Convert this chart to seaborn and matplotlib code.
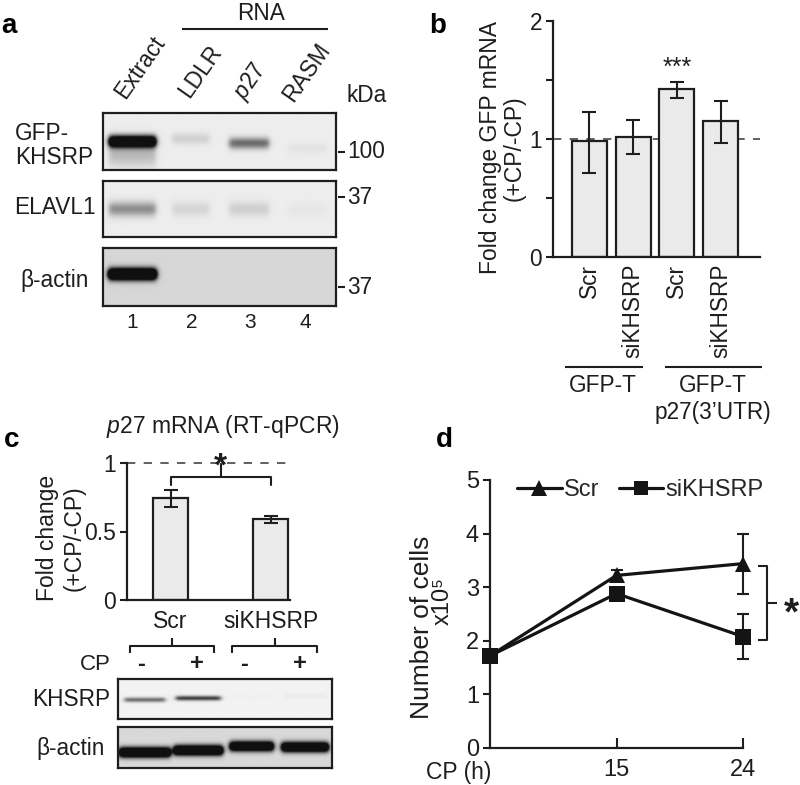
import numpy as np
import pandas as pd
import matplotlib
matplotlib.use("Agg")
import matplotlib.pyplot as plt
from matplotlib.lines import Line2D
import seaborn as sns

# ---------------- data ----------------
# panel a: RNA pull-down western blots
a_lanes = ["Extract", "LDLR", "$\\mathit{p27}$", "RASM"]
a_lane_numbers = ["1", "2", "3", "4"]
a_blot_names = ["GFP-\nKHSRP", "ELAVL1", "β-actin"]
a_markers = ["100", "37", "37"]
a_gfp_khsrp = [1.8, 0.12, 0.55, 0.04]
a_elavl1 = [0.40, 0.10, 0.13, 0.03]
a_actin = [2.2, 0.0, 0.0, 0.0]

# panel b: GFP reporter mRNA fold change
b_groups = ["Scr", "siKHSRP", "Scr", "siKHSRP"]
b_values = [0.98, 1.02, 1.42, 1.15]
b_err_low = [0.71, 0.87, 1.35, 0.97]
b_err_high = [1.23, 1.16, 1.48, 1.32]
b_constructs = ["GFP-T", "GFP-T\np27(3’UTR)"]

# panel c: p27 mRNA (RT-qPCR) + blots
c_groups = ["Scr", "siKHSRP"]
c_values = [0.745, 0.59]
c_err_low = [0.68, 0.56]
c_err_high = [0.80, 0.61]
c_cp = ["-", "+", "-", "+"]
c_khsrp = [0.55, 0.75, 0.01, 0.03]
c_actin = [2.0, 2.0, 1.8, 1.9]

# panel d: cell numbers
d_times = ["0", "15", "24"]
d_scr = [1.72, 3.22, 3.44]
d_scr_err = [0.0, 0.10, 0.56]
d_si = [1.72, 2.88, 2.08]
d_si_err = [0.0, 0.08, 0.42]

# ---------------- style ----------------
sns.set_theme(style="ticks")
plt.rcParams["font.family"] = ["Liberation Sans", "DejaVu Sans"]
plt.rcParams["mathtext.fontset"] = "custom"
plt.rcParams["mathtext.rm"] = "Liberation Sans"
plt.rcParams["mathtext.it"] = "Liberation Sans:italic"
INK = "#1e1e1e"
BAR = "#e9eae9"
FS = 16.3

W, H = 800, 785
fig = plt.figure(figsize=(8, 7.85), dpi=100)
fig.patch.set_facecolor("white")


def px_box(l, t, r, b):
    return [l / W, 1 - b / H, (r - l) / W, (b - t) / H]


ov = fig.add_axes([0, 0, 1, 1])
ov.set_xlim(0, W)
ov.set_ylim(H, 0)
ov.axis("off")


def T(x, y, s, **kw):
    kw.setdefault("ha", "center")
    kw.setdefault("va", "center")
    kw.setdefault("fontsize", FS)
    kw.setdefault("color", INK)
    ov.text(x, y, s, **kw)


def L(xs, ys, lw=1.5):
    ov.plot(xs, ys, color=INK, lw=lw, solid_capstyle="butt")


def style_axes(ax):
    for s in ["top", "right"]:
        ax.spines[s].set_visible(False)
    for s in ["left", "bottom"]:
        ax.spines[s].set_linewidth(1.6)
        ax.spines[s].set_color(INK)
    ax.set_facecolor("none")


def blot(box, intens, ycen, sy, hw, bg, smear=None, nlanes=4):
    ax = fig.add_axes(px_box(*box))
    nx, ny = 420, 140
    xs = np.linspace(0.5, nlanes + 0.5, nx)
    ys = np.linspace(0, 1, ny)
    X, Y = np.meshgrid(xs, ys)
    dens = np.zeros_like(X)
    for i in range(nlanes):
        c = i + 1
        px = 0.5 * (np.tanh((X - (c - hw[i])) / 0.05) - np.tanh((X - (c + hw[i])) / 0.05))
        py = np.exp(-((Y - ycen[i]) / sy) ** 2)
        dens += intens[i] * px * py
        if smear is not None and smear[i] > 0:
            ps = np.exp(-((Y - ycen[i] - 0.22) / 0.22) ** 2)
            dens += smear[i] * px * ps
    img = bg * (1 - np.clip(dens, 0, 0.93))
    ax.imshow(img, cmap="gray", vmin=0, vmax=1, extent=(0.5, nlanes + 0.5, 1, 0),
              aspect="auto", interpolation="bilinear")
    ax.set_xticks([])
    ax.set_yticks([])
    for s in ax.spines.values():
        s.set_linewidth(1.6)
        s.set_color(INK)
        s.set_visible(True)
    return ax


# ================= panel a =================
T(9, 26, "a", fontsize=20, fontweight="bold", color="black")
T(261, 13, "RNA")
L([182, 328], [29, 29])
lab_pos = [(140, 67), (200, 72), (251, 82), (307, 72)]
for (x, y), s in zip(lab_pos, a_lanes):
    T(x, y, s, rotation=55)
T(367, 95, "kDa")

blot((103, 113, 336, 170), a_gfp_khsrp, [0.50, 0.45, 0.53, 0.62], 0.10,
     [0.40, 0.32, 0.34, 0.33], 0.93, smear=[0.22, 0, 0, 0])
blot((103, 181, 336, 237), a_elavl1, [0.50, 0.50, 0.50, 0.52], 0.13,
     [0.40, 0.32, 0.34, 0.33], 0.93)
blot((103, 248, 336, 306), a_actin, [0.45, 0.5, 0.5, 0.5], 0.10,
     [0.41, 0.32, 0.34, 0.33], 0.84)

T(15, 133, "GFP-", ha="left")
T(15, 157, "KHSRP", ha="left")
T(14, 207, "ELAVL1", ha="left")
T(20, 281, "β-actin", ha="left")
for y, s in zip([152, 197, 287], a_markers):
    L([338, 345], [y, y])
    T(347, y, s, ha="left")
for x, s in zip([132, 192, 250, 305], a_lane_numbers):
    T(x, 323, s, fontsize=15)

# ================= panel b =================
T(438, 26, "b", fontsize=20, fontweight="bold", color="black")
axb = fig.add_axes(px_box(553, 21, 760, 257))
dfb = pd.DataFrame({"cond": [f"{g}_{i}" for i, g in enumerate(b_groups)], "val": b_values})
sns.barplot(data=dfb, x="cond", y="val", color=BAR, saturation=1, width=0.8,
            edgecolor=INK, linewidth=1.6, errorbar=None, ax=axb, zorder=2)
bv = np.array(b_values)
axb.errorbar(np.arange(len(bv)), bv,
             yerr=[bv - np.array(b_err_low), np.array(b_err_high) - bv],
             fmt="none", ecolor=INK, elinewidth=1.5, capsize=5, capthick=1.5, zorder=3)
axb.axhline(1, color="#444444", lw=1.2, ls=(0, (5, 5)), zorder=1)
axb.set_xlim(-0.83, 3.9)
axb.set_ylim(0, 2)
style_axes(axb)
axb.set_yticks([0, 0.5, 1, 1.5, 2])
axb.set_yticklabels(["0", "", "1", "", "2"])
axb.tick_params(axis="y", direction="out", length=5, width=1.5, labelsize=FS, pad=3, colors=INK)
axb.set_xticks(range(4))
axb.set_xticklabels(b_groups, rotation=90)
axb.tick_params(axis="x", length=0, labelsize=FS, pad=5, colors=INK)
axb.set_xlabel("")
axb.set_ylabel("")
axb.text(2, 1.505, "***", ha="center", va="bottom", fontsize=18, color=INK)
T(502, 148, "Fold change GFP mRNA\n(+CP/-CP)", rotation=90, multialignment="center",
  fontsize=16.5, linespacing=1.05)
L([565, 643], [367, 367])
L([665, 762], [367, 367])
T(603, 385, b_constructs[0])
T(713, 385, b_constructs[1].split("\n")[0])
T(713, 413, b_constructs[1].split("\n")[1])

# ================= panel c =================
T(12, 440, "c", fontsize=20, fontweight="bold", color="black")
T(223, 427, "$\\mathit{p27}$ mRNA (RT-qPCR)", fontsize=16.5)
axc = fig.add_axes(px_box(127, 463, 290, 600))
dfc = pd.DataFrame({"cond": c_groups, "val": c_values})
sns.barplot(data=dfc, x="cond", y="val", color=BAR, saturation=1, width=0.35,
            edgecolor=INK, linewidth=1.6, errorbar=None, ax=axc, zorder=2)
cv = np.array(c_values)
axc.errorbar(np.arange(len(cv)), cv,
             yerr=[cv - np.array(c_err_low), np.array(c_err_high) - cv],
             fmt="none", ecolor=INK, elinewidth=1.5, capsize=5, capthick=1.5, zorder=3)
axc.axhline(1, color="#444444", lw=1.2, ls=(0, (5, 5)), zorder=1, clip_on=False)
axc.set_xlim(-0.435, 1.195)
axc.set_ylim(0, 1)
style_axes(axc)
axc.set_yticks([0, 0.5, 1])
axc.set_yticklabels(["0", "0.5", "1"])
axc.tick_params(axis="y", direction="out", length=5, width=1.5, labelsize=16.5, pad=3, colors=INK)
axc.tick_params(axis="x", length=0, labelsize=16.5, pad=7, colors=INK)
axc.set_xlabel("")
axc.set_ylabel("")
axc.plot([0, 0, 1, 1], [0.84, 0.9, 0.9, 0.84], color=INK, lw=1.5, clip_on=False)
axc.plot([0.5, 0.5], [0.9, 0.99], color=INK, lw=1.5, clip_on=False)
axc.text(0.5, 0.91, "*", ha="center", va="baseline", fontsize=24, fontweight="bold",
         color=INK, clip_on=False)
T(61, 538, "Fold change\n(+CP/-CP)", rotation=90, multialignment="center",
  fontsize=16.5, linespacing=1.2)

for x0, x1 in [(130, 214), (232, 317)]:
    L([x0, x0, x1, x1], [653, 646, 646, 653])
    L([(x0 + x1) / 2] * 2, [646, 638])
T(95, 665, "CP", fontsize=16)
for x, s in zip([141, 197, 244, 300], c_cp):
    T(x, 664, s, fontweight="bold", fontsize=17)
blot((118, 679, 332, 719), c_khsrp, [0.52, 0.48, 0.45, 0.42], 0.06,
     [0.38, 0.42, 0.40, 0.40], 0.95)
blot((118, 727, 332, 768), c_actin, [0.62, 0.57, 0.47, 0.49], 0.12,
     [0.48, 0.46, 0.41, 0.44], 0.85)
T(71, 700, "KHSRP")
T(71, 748, "β-actin")

# ================= panel d =================
T(444, 440, "d", fontsize=20, fontweight="bold", color="black")
axd = fig.add_axes(px_box(490, 480, 743, 748))
pos = np.arange(len(d_times))
dfd = pd.DataFrame({"t": np.concatenate([pos, pos]),
                    "cells": d_scr + d_si,
                    "grp": ["Scr"] * len(pos) + ["siKHSRP"] * len(pos)})
sns.lineplot(data=dfd, x="t", y="cells", style="grp", markers={"Scr": "^", "siKHSRP": "s"},
             dashes=False, color="#141414", linewidth=2.3, markersize=12,
             markeredgewidth=0, legend=False, ax=axd, clip_on=False, zorder=3)
for vals, errs in [(d_scr, d_scr_err), (d_si, d_si_err)]:
    axd.errorbar(pos, vals, yerr=errs, fmt="none", ecolor=INK, elinewidth=1.5,
                 capsize=4, capthick=1.5, zorder=2, clip_on=False)
axd.set_xlim(0, 2)
axd.set_ylim(0, 5)
style_axes(axd)
axd.set_yticks(range(6))
axd.tick_params(axis="y", direction="out", length=5, width=1.5, labelsize=17, pad=3, colors=INK)
axd.set_xticks(pos[1:])
axd.set_xticklabels(d_times[1:])
axd.tick_params(axis="x", direction="in", length=7, width=1.5, labelsize=17, pad=8, colors=INK)
axd.set_xlabel("")
axd.set_ylabel("")
handles = [Line2D([0], [0], color="#141414", lw=2.3, marker="^", markersize=12, markeredgewidth=0),
           Line2D([0], [0], color="#141414", lw=2.3, marker="s", markersize=10.5, markeredgewidth=0)]
fig.legend(handles, ["Scr", "siKHSRP"], loc="center left", bbox_to_anchor=(517 / W, 1 - 490 / H),
           ncol=2, frameon=False, handlelength=1.9, handletextpad=0.1, columnspacing=0.8,
           borderpad=0, borderaxespad=0, prop={"size": 17})
T(459, 772, "CP (h)", fontsize=16.5)
T(422, 627, "Number of cells", rotation=90, fontsize=19)
T(443, 601, "x10⁵", rotation=90, fontsize=17)
L([758, 767, 767, 758], [566, 566, 640, 640])
L([767, 777], [603, 603])
T(791, 614, "*", fontsize=28, fontweight="bold")

fig.savefig("out.png", dpi=100, facecolor="white")
